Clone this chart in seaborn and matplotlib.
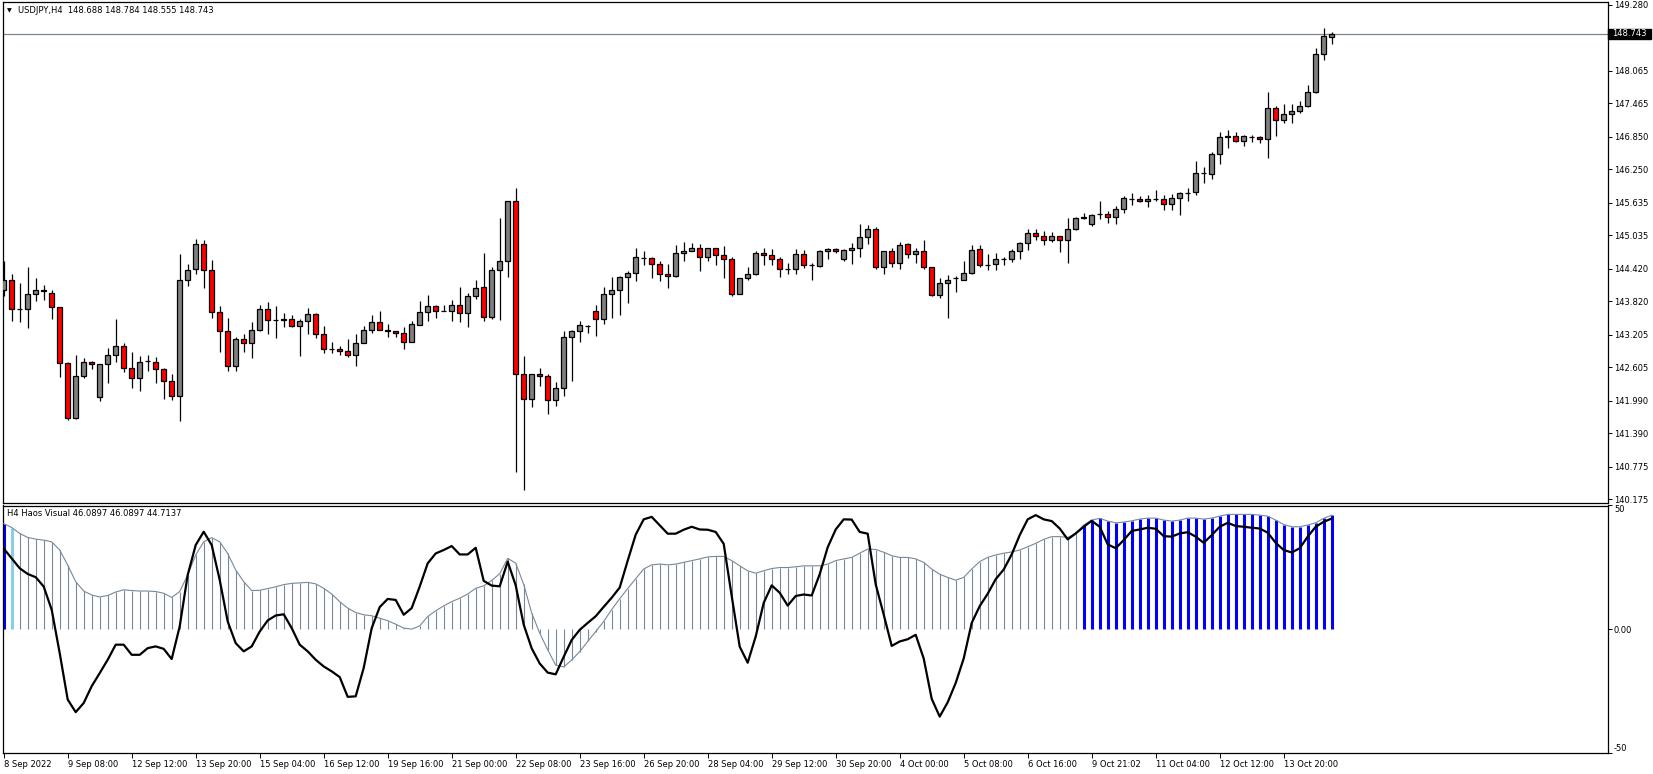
import numpy as np
import pandas as pd
import matplotlib
matplotlib.use("Agg")
import matplotlib.pyplot as plt
import matplotlib.transforms as mtransforms
from matplotlib.patches import Rectangle
import seaborn as sns

# ---------------- data ----------------
tick_labels = ["8 Sep 2022", "9 Sep 08:00", "12 Sep 12:00", "13 Sep 20:00", "15 Sep 04:00",
               "16 Sep 12:00", "19 Sep 16:00", "21 Sep 00:00", "22 Sep 08:00", "23 Sep 16:00",
               "26 Sep 20:00", "28 Sep 04:00", "29 Sep 12:00", "30 Sep 20:00", "4 Oct 00:00",
               "5 Oct 08:00", "6 Oct 16:00", "9 Oct 21:02", "11 Oct 04:00", "12 Oct 12:00",
               "13 Oct 20:00"]
tick_every = 8

opens = [144.02, 144.21, 143.67, 143.67, 143.95, 144.01, 143.98, 143.71, 142.68, 141.68,
         142.44, 142.70, 142.05, 142.66, 142.83, 142.99, 142.60, 142.40, 142.73, 142.71,
         142.57, 142.35, 142.07, 144.22, 144.41, 144.87, 144.39, 143.62, 143.27, 142.62,
         143.12, 143.05, 143.30, 143.67, 143.47, 143.47, 143.49, 143.36, 143.45, 143.58,
         143.21, 142.95, 142.95, 142.90, 142.84, 143.06, 143.29, 143.43, 143.30, 143.27,
         143.23, 143.08, 143.38, 143.62, 143.73, 143.65, 143.65, 143.76, 143.60, 143.91,
         144.08, 143.54, 144.39, 144.56, 145.66, 142.49, 142.03, 142.49, 142.44, 142.01,
         142.22, 143.16, 143.27, 143.37, 143.65, 143.49, 143.95, 144.02, 144.26, 144.35,
         144.62, 144.61, 144.50, 144.33, 144.28, 144.70, 144.74, 144.80, 144.63, 144.80,
         144.67, 144.59, 143.95, 144.24, 144.33, 144.70, 144.67, 144.59, 144.42, 144.42,
         144.69, 144.48, 144.47, 144.74, 144.78, 144.59, 144.76, 144.80, 145.00, 145.16,
         144.46, 144.74, 144.52, 144.87, 144.69, 144.74, 144.46, 143.94, 144.15, 144.24,
         144.22, 144.35, 144.78, 144.49, 144.50, 144.60, 144.59, 144.74, 144.89, 145.07,
         145.02, 144.94, 145.03, 144.94, 145.15, 145.35, 145.24, 145.42, 145.42, 145.37,
         145.51, 145.70, 145.70, 145.66, 145.70, 145.70, 145.62, 145.73, 145.82, 145.83,
         146.19, 146.17, 146.53, 146.84, 146.87, 146.78, 146.85, 146.84, 146.80, 147.37,
         147.15, 147.26, 147.32, 147.41, 147.67, 148.37, 148.688]
highs = [144.56, 144.32, 144.16, 144.45, 144.25, 144.12, 144.02, 143.72, 142.70, 142.83,
         142.78, 142.73, 142.67, 142.96, 143.49, 143.05, 142.89, 142.81, 142.84, 142.79,
         142.59, 142.48, 144.69, 144.51, 144.96, 144.94, 144.58, 143.73, 143.52, 143.17,
         143.21, 143.43, 143.76, 143.81, 143.73, 143.60, 143.56, 143.49, 143.70, 143.60,
         143.37, 143.08, 142.99, 143.12, 143.21, 143.36, 143.56, 143.64, 143.40, 143.27,
         143.34, 143.45, 143.83, 143.93, 143.75, 143.76, 143.84, 144.08, 143.97, 144.21,
         144.70, 144.45, 145.35, 145.66, 145.90, 142.81, 142.49, 142.59, 142.49, 142.33,
         143.27, 143.30, 143.45, 143.38, 143.76, 144.08, 144.26, 144.28, 144.37, 144.80,
         144.74, 144.63, 144.56, 144.50, 144.85, 144.91, 144.89, 144.87, 144.81, 144.81,
         144.83, 144.63, 144.24, 144.46, 144.74, 144.80, 144.78, 144.63, 144.52, 144.78,
         144.76, 144.52, 144.76, 144.80, 144.81, 144.78, 144.89, 145.24, 145.22, 145.18,
         144.74, 144.80, 144.92, 144.89, 144.81, 144.94, 144.46, 144.24, 144.30, 144.28,
         144.56, 144.85, 144.85, 144.69, 144.70, 144.63, 144.78, 144.92, 145.15, 145.15,
         145.11, 145.09, 145.03, 145.35, 145.37, 145.44, 145.42, 145.66, 145.48, 145.57,
         145.75, 145.81, 145.75, 145.77, 145.86, 145.77, 145.79, 145.84, 145.90, 146.40,
         146.29, 146.56, 146.93, 146.97, 146.93, 146.89, 146.89, 146.87, 147.67, 147.41,
         147.46, 147.46, 147.50, 147.80, 148.48, 148.86, 148.784]
lows = [143.92, 143.46, 143.43, 143.32, 143.83, 143.84, 143.50, 142.43, 141.63, 141.66,
        142.40, 142.58, 141.99, 142.32, 142.71, 142.52, 142.23, 142.16, 142.53, 142.31,
        142.03, 142.01, 141.62, 144.11, 144.33, 144.07, 143.52, 142.89, 142.54, 142.54,
        142.89, 142.78, 143.28, 143.21, 143.15, 143.34, 143.34, 142.82, 143.21, 143.15,
        142.86, 142.87, 142.84, 142.80, 142.63, 143.05, 143.23, 143.29, 143.16, 143.16,
        142.94, 143.08, 143.38, 143.46, 143.52, 143.64, 143.46, 143.43, 143.34, 143.87,
        143.46, 143.50, 143.48, 144.27, 140.67, 140.34, 141.88, 142.27, 141.75, 141.90,
        142.08, 142.36, 143.08, 143.24, 143.19, 143.40, 143.52, 143.57, 143.79, 144.20,
        144.49, 144.25, 144.20, 144.06, 144.26, 144.57, 144.74, 144.38, 144.57, 144.48,
        144.24, 143.91, 143.95, 144.21, 144.30, 144.48, 144.48, 144.26, 144.32, 144.33,
        144.43, 144.21, 144.45, 144.59, 144.70, 144.56, 144.50, 144.64, 144.87, 144.41,
        144.33, 144.45, 144.41, 144.61, 144.52, 144.41, 143.92, 143.89, 143.52, 144.00,
        144.22, 144.32, 144.46, 144.39, 144.39, 144.48, 144.54, 144.59, 144.76, 144.94,
        144.85, 144.91, 144.72, 144.52, 145.13, 145.33, 145.20, 145.33, 145.27, 145.24,
        145.44, 145.60, 145.64, 145.55, 145.66, 145.50, 145.50, 145.41, 145.66, 145.77,
        145.99, 146.07, 146.34, 146.65, 146.76, 146.67, 146.75, 146.73, 146.45, 146.86,
        147.10, 147.10, 147.28, 147.39, 147.65, 148.27, 148.555]
closes = [144.21, 143.67, 143.67, 143.95, 144.02, 144.03, 143.71, 142.68, 141.68, 142.44,
          142.70, 142.66, 142.66, 142.83, 142.99, 142.60, 142.40, 142.71, 142.73, 142.57,
          142.35, 142.07, 144.22, 144.39, 144.87, 144.39, 143.62, 143.27, 142.62, 143.12,
          143.05, 143.30, 143.67, 143.47, 143.47, 143.49, 143.36, 143.45, 143.58, 143.21,
          142.95, 142.95, 142.90, 142.84, 143.06, 143.29, 143.43, 143.30, 143.27, 143.23,
          143.08, 143.40, 143.62, 143.73, 143.65, 143.65, 143.76, 143.60, 143.91, 144.06,
          143.54, 144.39, 144.56, 145.66, 142.49, 142.03, 142.49, 142.44, 142.01, 142.22,
          143.16, 143.27, 143.38, 143.37, 143.49, 143.95, 144.02, 144.26, 144.35, 144.63,
          144.62, 144.50, 144.33, 144.28, 144.70, 144.74, 144.80, 144.63, 144.81, 144.67,
          144.59, 143.95, 144.24, 144.33, 144.70, 144.67, 144.59, 144.41, 144.42, 144.69,
          144.48, 144.48, 144.74, 144.78, 144.74, 144.76, 144.80, 145.00, 145.16, 144.46,
          144.74, 144.52, 144.85, 144.69, 144.74, 144.46, 143.94, 144.15, 144.22, 144.24,
          144.35, 144.76, 144.48, 144.49, 144.59, 144.60, 144.74, 144.89, 145.07, 145.02,
          144.94, 145.03, 144.94, 145.15, 145.35, 145.38, 145.40, 145.42, 145.37, 145.51,
          145.72, 145.70, 145.66, 145.70, 145.70, 145.62, 145.73, 145.81, 145.82, 146.19,
          146.19, 146.53, 146.84, 146.87, 146.78, 146.86, 146.85, 146.80, 147.37, 147.15,
          147.26, 147.32, 147.41, 147.67, 148.37, 148.70, 148.743]

haos_hist = [42.7, 41.1, 38.7, 37.1, 36.4, 36.0, 35.3, 32.0, 25.9, 19.2,
             15.4, 13.8, 13.0, 13.6, 15.0, 15.9, 15.6, 15.4, 15.4, 15.2,
             14.5, 12.8, 15.2, 21.9, 30.0, 35.3, 37.0, 35.3, 30.6, 23.9,
             19.2, 15.6, 15.7, 16.4, 17.1, 18.0, 18.5, 18.7, 18.9, 18.3,
             16.5, 14.2, 11.1, 8.5, 6.7, 5.8, 5.4, 4.4, 3.4, 2.0,
             0.4, 0.0, 1.3, 5.1, 7.4, 9.4, 11.1, 12.5, 14.2, 16.5,
             17.5, 19.7, 22.4, 28.6, 26.7, 18.1, 6.5, -1.6, -8.4, -14.6,
             -15.3, -12.5, -9.1, -5.0, -1.0, 3.1, 7.9, 12.3, 16.4, 20.4,
             24.3, 26.0, 26.3, 26.0, 26.3, 27.0, 27.7, 28.4, 29.2, 29.4,
             29.4, 27.7, 25.6, 23.6, 22.6, 23.6, 24.5, 24.9, 24.9, 25.2,
             25.6, 25.6, 25.6, 26.3, 27.7, 28.4, 29.0, 30.7, 32.4, 32.2,
             31.1, 29.7, 29.0, 29.0, 28.4, 27.0, 24.3, 22.2, 20.9, 19.8,
             20.9, 24.3, 27.3, 29.0, 30.0, 30.7, 31.2, 32.0, 33.3, 34.7,
             36.3, 37.4, 37.4, 37.1, 38.7, 42.1, 44.1, 44.8, 43.7, 43.0,
             43.3, 43.8, 44.5, 44.9, 44.9, 44.1, 43.7, 44.1, 44.9, 44.9,
             44.5, 44.9, 45.7, 46.4, 46.4, 46.4, 46.4, 46.1, 45.7, 44.1,
             42.3, 41.4, 41.4, 42.1, 43.0, 44.8, 46.0897]
haos_fast = [32.6, 28.6, 24.6, 22.3, 21.0, 17.2, 7.8, -9.7, -28.5, -33.6,
             -29.9, -23.1, -17.8, -12.4, -6.3, -6.3, -10.4, -10.4, -7.7, -7.0,
             -8.0, -12.1, 1.1, 21.9, 34.0, 39.4, 34.0, 19.9, 3.1, -5.7,
             -9.0, -7.0, -1.0, 3.5, 5.5, 6.0, 0.4, -6.3, -9.0, -12.4,
             -15.1, -17.1, -19.4, -27.4, -27.2, -15.7, 0.4, 8.9, 12.2, 11.8,
             5.8, 8.5, 17.2, 26.6, 30.6, 32.0, 33.6, 30.2, 30.2, 32.9,
             19.5, 17.6, 17.3, 27.3, 17.7, 1.8, -7.8, -13.9, -17.6, -18.3,
             -11.2, -4.4, -0.3, 2.5, 5.2, 9.0, 12.7, 16.8, 27.7, 38.2,
             44.4, 45.4, 42.0, 38.6, 38.6, 40.2, 41.4, 40.3, 40.2, 39.3,
             34.5, 13.4, -7.1, -13.6, -3.0, 10.6, 17.7, 14.7, 9.5, 13.4,
             14.0, 13.6, 22.2, 33.1, 40.3, 44.4, 44.3, 39.3, 38.6, 18.1,
             5.9, -6.8, -5.0, -4.1, -2.3, -11.9, -28.2, -35.4, -29.6, -21.8,
             -11.9, 2.5, 9.3, 14.3, 20.2, 24.1, 30.2, 38.0, 44.4, 46.1,
             44.4, 43.7, 40.7, 36.3, 38.7, 41.4, 43.8, 41.4, 34.3, 32.7,
             36.0, 39.7, 40.3, 41.0, 40.6, 37.6, 37.4, 38.7, 39.2, 37.4,
             34.9, 38.0, 41.4, 43.0, 41.7, 41.4, 41.0, 40.7, 39.0, 34.9,
             32.0, 31.0, 32.7, 37.4, 41.4, 43.4, 44.7137]

price_ticks = [140.175, 140.775, 141.390, 141.990, 142.605, 143.205, 143.820, 144.420,
               145.035, 145.635, 146.250, 146.850, 147.465, 148.065, 148.680, 149.280]
header_text = "USDJPY,H4  148.688 148.784 148.555 148.743"
ind_text = "H4 Haos Visual 46.0897 46.0897 44.7137"
last_price = 148.743

# ---------------- style ----------------
sns.set_style("white")
plt.rcParams['font.family'] = ['DejaVu Sans']
FS = 6.0

W, H = 1653, 774
fig = plt.figure(figsize=(W / 100, H / 100), dpi=100)
fig.patch.set_facecolor("white")

def frac_box(x0, y0, x1, y1):
    return [x0 / W, 1 - y1 / H, (x1 - x0) / W, (y1 - y0) / H]

ax = fig.add_axes(frac_box(2.5, 1.5, 1607.7, 503.0))
ax2 = fig.add_axes(frac_box(2.5, 505.5, 1607.7, 752.7))

n = len(opens)
idx = np.arange(n)
df = pd.DataFrame({"i": idx, "open": opens, "high": highs, "low": lows, "close": closes,
                   "hist": haos_hist, "fast": haos_fast})

# ---------------- candles ----------------
body_col = np.where(df["close"] > df["open"], "#808080",
                    np.where(df["close"] < df["open"], "#ff0000", "black"))
ax.vlines(df["i"], df["low"], df["high"], color="black", lw=0.9, zorder=2)
ax.bar(df["i"], df["close"] - df["open"], bottom=df["open"], width=0.58,
       color=body_col, edgecolor="black", linewidth=0.9, zorder=3)

ax.axhline(last_price, color="#7a8590", lw=0.9, zorder=1)

ax.set_xlim(-0.15, 200.5)
ax.set_ylim(140.107, 149.339)
ax.set_xticks([])
ax.yaxis.tick_right()
ax.set_yticks(price_ticks)
# the 148.680 level label sits under the current-price box, so only its tick is shown
ax.set_yticklabels(["" if abs(p - last_price) < 0.1 else f"{p:.3f}" for p in price_ticks])
ax.tick_params(axis="y", which="both", right=True, left=False, length=3, width=0.7,
               pad=1.5, labelsize=FS, colors="black", direction="out")

# price label box
trans = mtransforms.blended_transform_factory(ax.transAxes, ax.transData)
box_w = 43 / 1605.2
box_h = 9.5 / 54.32
ax.add_patch(Rectangle((1.0, last_price - box_h / 2), box_w, box_h, transform=trans,
                       facecolor="black", edgecolor="black", clip_on=False, zorder=10))
ax.text(1.0 + 4 / 1605.2, last_price, f"{last_price:.3f}", transform=trans, ha="left",
        va="center", color="white", fontsize=FS, zorder=11, clip_on=False)

# ---------------- indicator ----------------
bar_colors = ["#778899"] * n
bar_widths = [0.8] * n
bar_colors[0] = "#0000ff"; bar_widths[0] = 2.2
bar_colors[1] = "#87ceeb"; bar_widths[1] = 2.2
for k in range(135, n):
    bar_colors[k] = "#0000ff"
    bar_widths[k] = 2.2
ax2.vlines(df["i"], 0, df["hist"], colors=bar_colors, linewidths=bar_widths, zorder=2)
sns.lineplot(x=df["i"], y=df["hist"], ax=ax2, color="#778899", linewidth=0.8,
             legend=False, zorder=3)
sns.lineplot(x=df["i"], y=df["fast"], ax=ax2, color="black", linewidth=1.6,
             legend=False, zorder=4)

ax2.set_xlim(-0.15, 200.5)
ax2.set_ylim(-49.8, 49.9)
ax2.set_xlabel("")
ax2.set_ylabel("")
xt = [k * tick_every for k in range(len(tick_labels))]
ax2.set_xticks(xt)
ax2.set_xticklabels(tick_labels, ha="left")
ax2.tick_params(axis="x", bottom=True, length=3.5, width=0.7, pad=1.5, labelsize=FS,
                colors="black", direction="out")
for lbl in ax2.get_xticklabels():
    lbl.set_horizontalalignment("left")
ax2.yaxis.tick_right()
ax2.set_yticks([50, 0, -50])
ax2.set_yticklabels(["50", "0.00", "-50"])
ax2.tick_params(axis="y", right=True, left=False, length=3, width=0.7, pad=1.5,
                labelsize=FS, colors="black", direction="out")
ylbls = ax2.get_yticklabels()
ylbls[0].set_verticalalignment("top")
ylbls[2].set_verticalalignment("bottom")

for a in (ax, ax2):
    for s in a.spines.values():
        s.set_color("black")
        s.set_linewidth(0.9)
        s.set_visible(True)
    a.set_facecolor("white")
    a.grid(False)

# ---------------- texts ----------------
fig.text(6.5 / W, 1 - 10.5 / H, "\u25bc", fontsize=4.5, color="black", va="center", ha="left")
fig.text(18 / W, 1 - 10.5 / H, header_text, fontsize=FS, color="black", va="center", ha="left")
fig.text(7 / W, 1 - 513.5 / H, ind_text, fontsize=FS, color="black", va="center", ha="left")

fig.savefig("out.png", dpi=100, facecolor="white")
